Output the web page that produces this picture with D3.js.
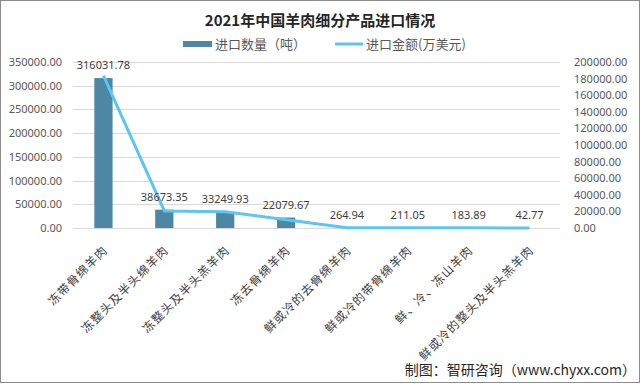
<!DOCTYPE html>
<html>
<head>
<meta charset="utf-8">
<script src="https://cdn.jsdelivr.net/npm/d3@7"></script>
<style>
  body { margin: 0; background: #fff; }
  svg { display: block; }
</style>
</head>
<body>
<script>
// chart data
var categories = ["冻带骨绵羊肉", "冻整头及半头绵羊肉", "冻整头及半头羔羊肉", "冻去骨绵羊肉",
    "鲜或冷的去骨绵羊肉", "鲜或冷的带骨绵羊肉", "鲜、冷、冻山羊肉", "鲜或冷的整头及半头羔羊肉"];
var quantity = [316031.78, 38673.35, 33249.93, 22079.67, 264.94, 211.05, 183.89, 42.77];
var amount = [183500, 20500, 19700, 10000, 320, 250, 220, 60];
var leftTicks = [0, 50000, 100000, 150000, 200000, 250000, 300000, 350000];
var rightTicks = [0, 20000, 40000, 60000, 80000, 100000, 120000, 140000, 160000, 180000, 200000];

var svgWidth = 640;
var svgHeight = 385;
var plotLeft = 73, plotRight = 560, plotTop = 62, plotBottom = 228;
var barColor = "#4d87a3";
var lineColor = "#5bc6f2";
var cjk = "'Noto Sans CJK SC', 'Noto Sans', sans-serif";

var svg = d3.select("body").append("svg")
    .attr("width", svgWidth)
    .attr("height", svgHeight);

svg.append("rect")
    .attr("x", 0).attr("y", 0)
    .attr("width", svgWidth).attr("height", svgHeight)
    .attr("fill", "#fff");

//scales
var xScale = d3.scaleBand()
    .domain(categories)
    .range([plotLeft, plotRight]);
var yLeft = d3.scaleLinear()
    .domain([0, 350000])
    .range([plotBottom, plotTop]);
var yRight = d3.scaleLinear()
    .domain([0, 200000])
    .range([plotBottom, plotTop]);
var bw = xScale.bandwidth();

//gridlines
svg.append("g").selectAll("line")
    .data(leftTicks)
    .enter().append("line")
    .attr("x1", plotLeft).attr("x2", plotRight)
    .attr("y1", function(d) { return Math.round(yLeft(d)) + 0.5; })
    .attr("y2", function(d) { return Math.round(yLeft(d)) + 0.5; })
    .attr("stroke", "#d9d9d9")
    .attr("stroke-width", 1);

//left axis
var y_axis = d3.axisLeft(yLeft)
    .tickValues(leftTicks)
    .tickFormat(d3.format(".2f"))
    .tickSize(0)
    .tickPadding(0);
var gl = svg.append("g")
    .attr("transform", "translate(62,0)")
    .call(y_axis);
gl.select(".domain").remove();
gl.selectAll("text")
    .attr("font-family", "'Noto Sans', sans-serif")
    .attr("font-size", 11)
    .attr("fill", "#595959");

//right axis
var y_axis2 = d3.axisRight(yRight)
    .tickValues(rightTicks)
    .tickFormat(d3.format(".2f"))
    .tickSize(0)
    .tickPadding(0);
var gr = svg.append("g")
    .attr("transform", "translate(574,0)")
    .call(y_axis2);
gr.select(".domain").remove();
gr.selectAll("text")
    .attr("font-family", "'Noto Sans', sans-serif")
    .attr("font-size", 11)
    .attr("fill", "#595959");

//bars
svg.append("g").selectAll("rect")
    .data(quantity)
    .enter().append("rect")
    .attr("x", function(d, i) { return xScale(categories[i]) + bw * 0.35; })
    .attr("width", bw * 0.3)
    .attr("y", function(d) { return yLeft(d); })
    .attr("height", function(d) { return plotBottom - yLeft(d); })
    .attr("fill", barColor);

//line
var line = d3.line()
    .x(function(d, i) { return xScale(categories[i]) + bw / 2; })
    .y(function(d) { return yRight(d); });
svg.append("path")
    .datum(amount)
    .attr("d", line)
    .attr("fill", "none")
    .attr("stroke", lineColor)
    .attr("stroke-width", 3)
    .attr("stroke-linejoin", "round");

//bar value labels
svg.append("g").selectAll("text")
    .data(quantity)
    .enter().append("text")
    .attr("x", function(d, i) { return xScale(categories[i]) + bw / 2; })
    .attr("y", function(d) { return yLeft(d) - 9; })
    .attr("text-anchor", "middle")
    .attr("font-family", "'Noto Sans', sans-serif")
    .attr("font-size", 11)
    .attr("fill", "#404040")
    .text(function(d) { return d3.format(".2f")(d); });

//category labels
svg.append("g").selectAll("text")
    .data(categories)
    .enter().append("text")
    .attr("transform", function(d) {
        return "translate(" + (xScale(d) + bw / 2 + 2) + "," + 248 + ") rotate(-45)";
    })
    .attr("text-anchor", "end")
    .attr("dy", "0.35em")
    .attr("font-family", cjk)
    .attr("font-size", 12)
    .attr("letter-spacing", 1)
    .attr("fill", "#404040")
    .text(function(d) { return d; });

//title
svg.append("text")
    .attr("x", 320)
    .attr("y", 26)
    .attr("text-anchor", "middle")
    .attr("font-family", cjk)
    .attr("font-weight", "bold")
    .attr("font-size", 15)
    .attr("fill", "#262626")
    .text("2021年中国羊肉细分产品进口情况");

//legend
svg.append("rect")
    .attr("x", 183).attr("y", 41)
    .attr("width", 29).attr("height", 6)
    .attr("fill", barColor);
svg.append("text")
    .attr("x", 215).attr("y", 44)
    .attr("dy", "0.35em")
    .attr("font-family", cjk)
    .attr("font-size", 13)
    .attr("fill", "#595959")
    .text("进口数量（吨）");
svg.append("line")
    .attr("x1", 335).attr("x2", 363)
    .attr("y1", 44).attr("y2", 44)
    .attr("stroke", lineColor)
    .attr("stroke-width", 3);
svg.append("text")
    .attr("x", 366).attr("y", 44)
    .attr("dy", "0.35em")
    .attr("font-family", cjk)
    .attr("font-size", 13)
    .attr("fill", "#595959")
    .text("进口金额(万美元)");

//source
svg.append("text")
    .attr("x", 636).attr("y", 370)
    .attr("dy", "0.35em")
    .attr("text-anchor", "end")
    .attr("font-family", cjk)
    .attr("font-size", 14)
    .attr("fill", "#262626")
    .text("制图：智研咨询（www.chyxx.com）");

//frame
svg.append("rect")
    .attr("x", 0.5).attr("y", 0.5)
    .attr("width", svgWidth - 1).attr("height", 382)
    .attr("fill", "none")
    .attr("stroke", "#8c8c8c");
</script>
</body>
</html>
